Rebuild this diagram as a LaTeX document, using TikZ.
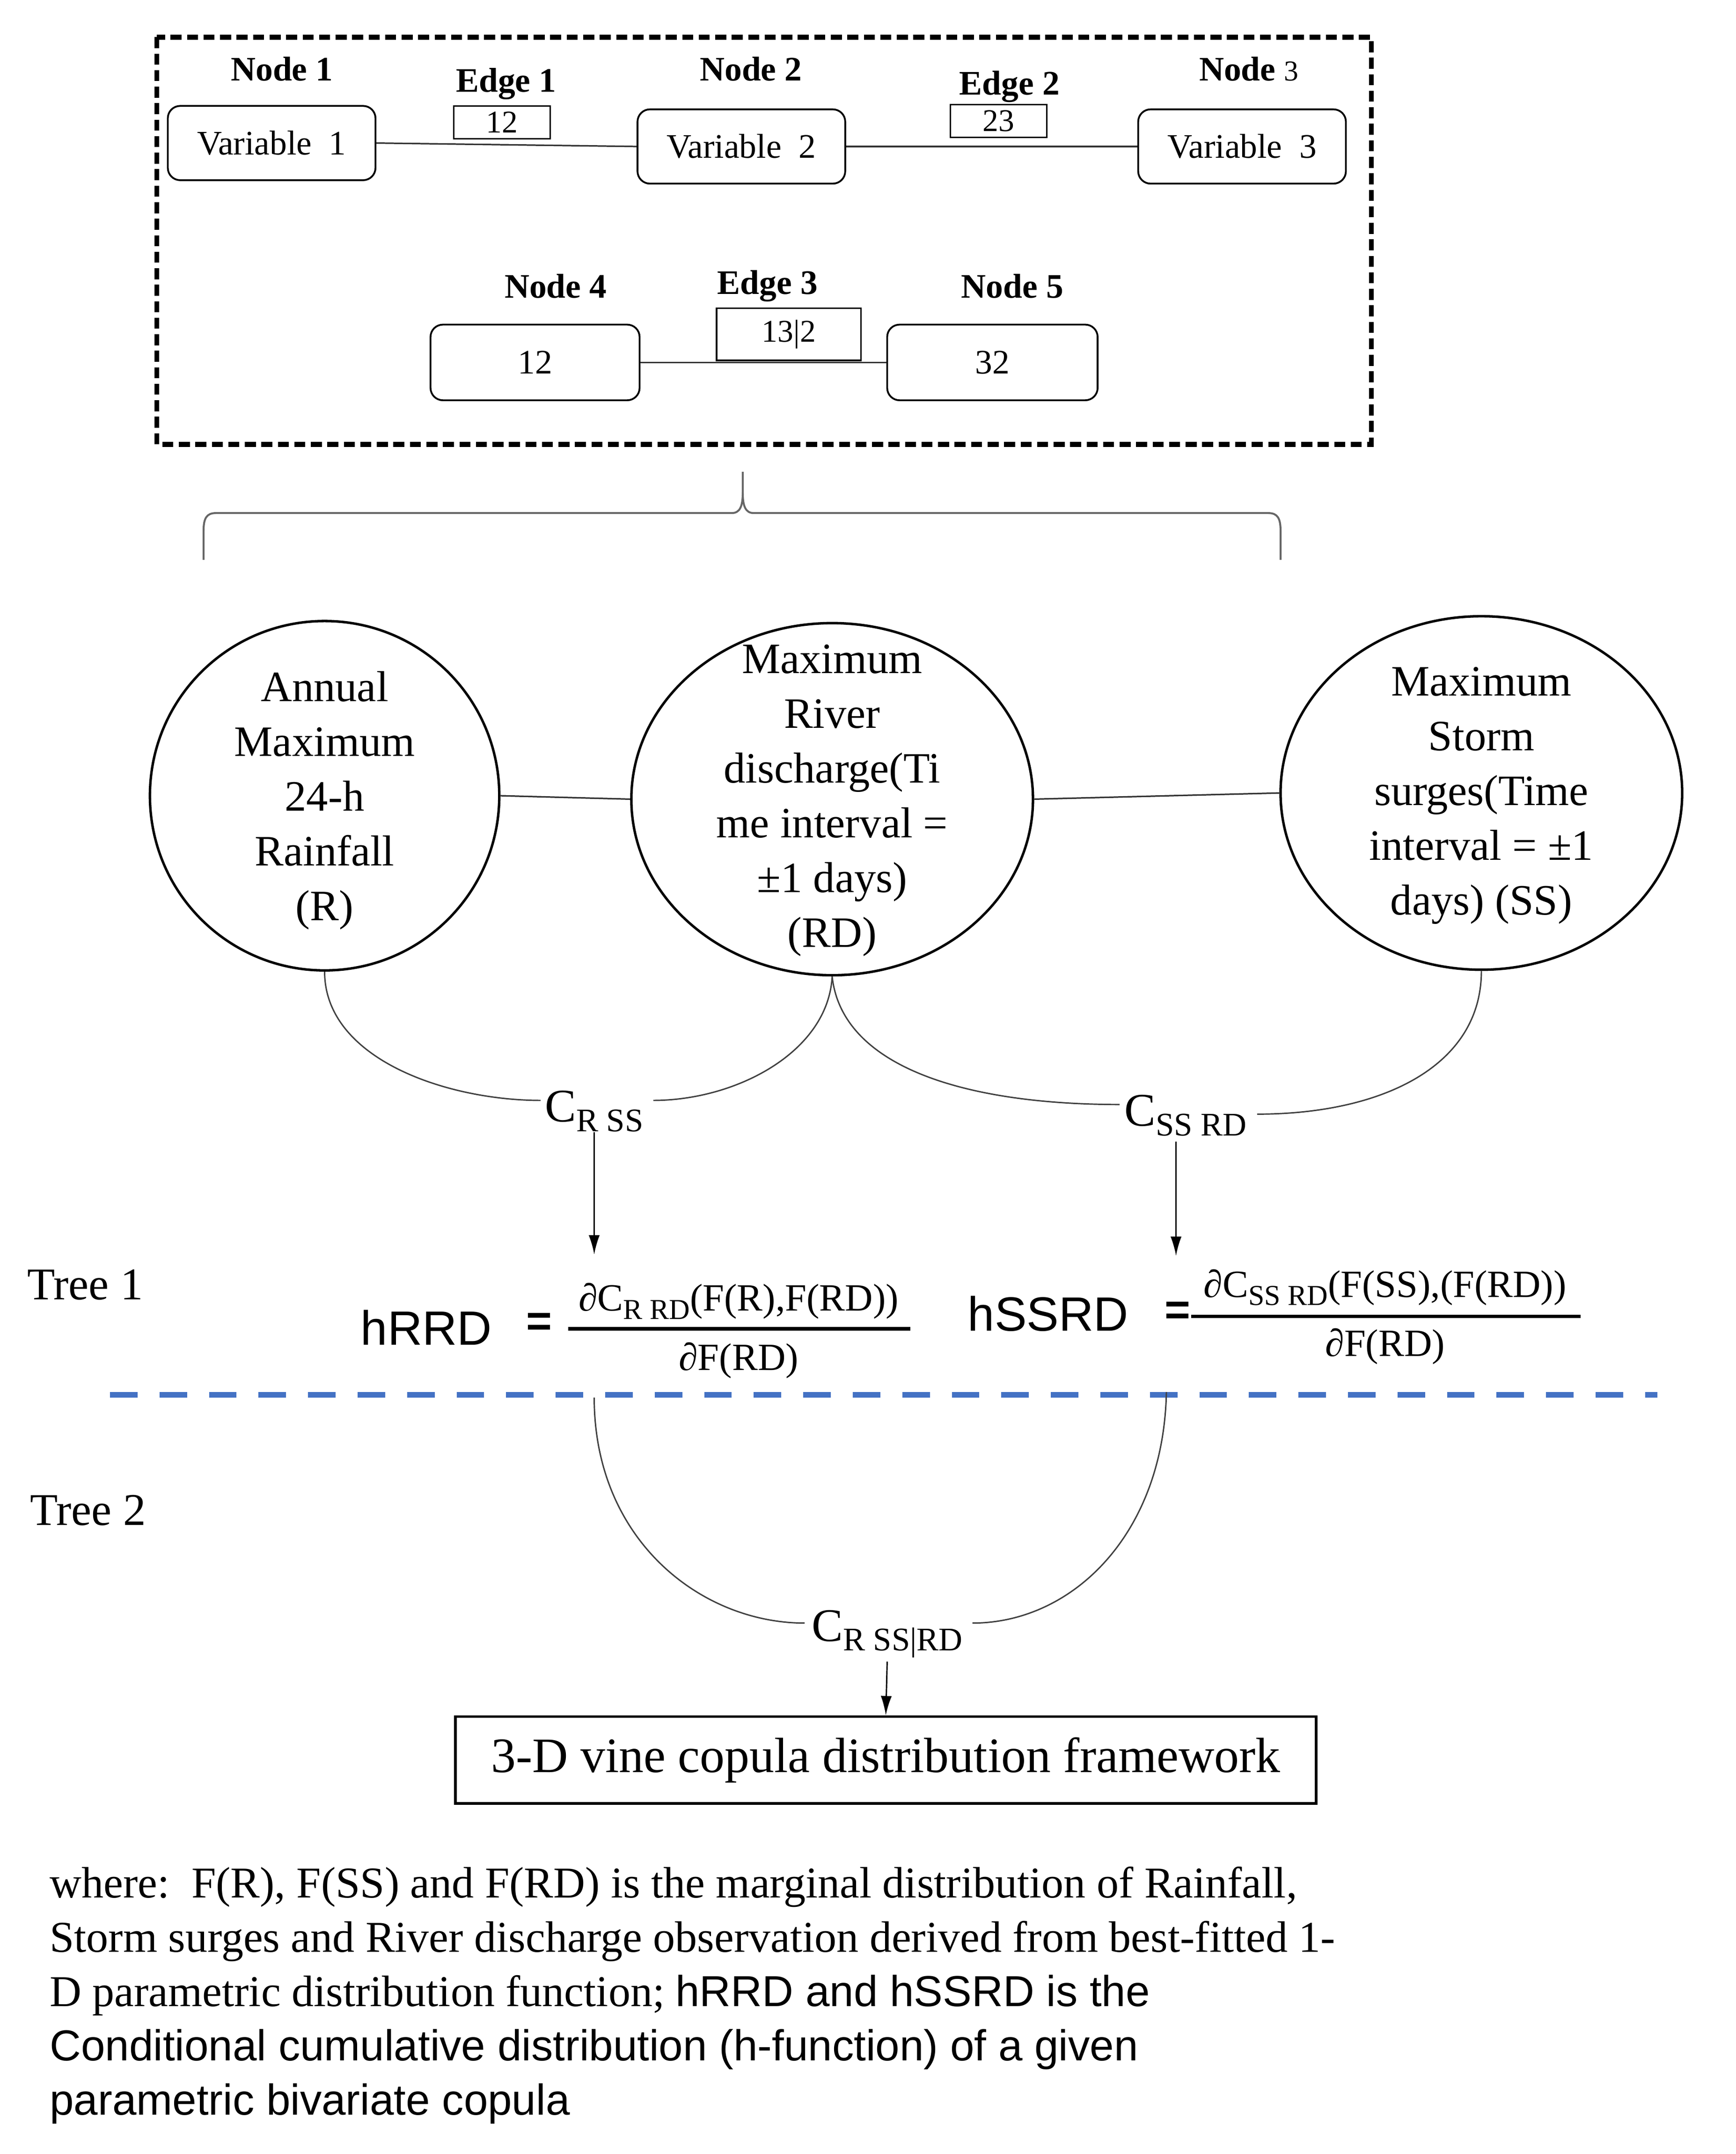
\documentclass[tikz,border=0pt]{standalone}
\usepackage{fontspec}
\setmainfont{Liberation Serif}
\newfontfamily\arialf{Liberation Sans}
\usetikzlibrary{shapes.geometric,arrows.meta}
\newcommand{\myfs}[2]{\fontsize{#1}{#2}\selectfont}
\begin{document}
\begin{tikzpicture}[x=1pt,y=-1pt,
  hdr/.style={inner sep=0pt,font=\bfseries\myfs{25}{25}},
  vbox/.style={draw,rounded corners=9pt,line width=1.3pt,minimum width=151pt,minimum height=54pt,inner sep=0pt,font=\myfs{25}{25}},
  ebox/.style={draw,line width=1.1pt,inner sep=0pt,font=\myfs{23}{23}},
  conn/.style={line width=1.1pt,draw=black!80},
  frame/.style={line width=3.6pt,dash pattern=on 8pt off 4pt},
  circ/.style={ellipse,draw,line width=1.8pt,inner sep=0pt},
  ctext/.style={align=center,inner sep=0pt,font=\myfs{31.5}{39.8}},
  curve/.style={line width=1pt,draw=black!75},
  arr/.style={line width=1pt,-{Latex[length=14pt,width=8pt]}},
  clab/.style={inner sep=0pt},
  sansbig/.style={inner sep=0pt,font=\arialf\myfs{35}{35}},
  eqs/.style={inner sep=0pt,font=\arialf\bfseries\myfs{32}{32}},
  frac/.style={inner sep=0pt,font=\myfs{28}{28}},
  bar/.style={line width=2.6pt},
  tree/.style={inner sep=0pt,font=\myfs{33}{33}},
  bluedash/.style={line width=4pt,draw={rgb,255:red,68;green,114;blue,196},dash pattern=on 20pt off 16pt},
  fwbox/.style={draw,line width=2pt,minimum width=626pt,minimum height=63pt,inner sep=0pt,font=\myfs{36}{36}},
  brace/.style={line width=1.4pt,draw=black!60}
]
\useasboundingbox (0,0) rectangle (1262,1566);
\fill[white] (0,0) rectangle (1262,1566);

% ---------- top legend box ----------
\draw[frame] (114,27) rectangle (997,323);
\node[hdr] (h1) at (205,50) {Node 1};
\node[hdr] (he1) at (368,61) {Edge 1};
\node[hdr] (h2) at (546,50) {Node 2};
\node[hdr] (he2) at (734,63) {Edge 2};
\node[hdr] (h3) at (908,50) {Node {\mdseries\myfs{21}{21}3}};
\node[vbox] (v1) at (197.5,104) {Variable\ \ 1};
\node[vbox] (v2) at (539,106.5) {Variable\ \ 2};
\node[vbox] (v3) at (903,106.5) {Variable\ \ 3};
\node[ebox,minimum width=70pt,minimum height=24pt] (e12) at (365,89) {12};
\node[ebox,minimum width=70pt,minimum height=24pt] (e23) at (726,88) {23};
\draw[conn] (v1.east) -- (v2.west);
\draw[conn] (v2.east) -- (v3.west);

\node[hdr] (h4) at (404,208) {Node 4};
\node[hdr] (he3) at (558,208) {Edge 3};
\node[hdr] (h5) at (736,208) {Node 5};
\node[vbox,minimum width=152pt,minimum height=55pt] (n4) at (389,263.5) {12};
\node[vbox,minimum width=153pt,minimum height=55pt] (n5) at (721.5,263.5) {32};
\draw[conn] (n4.east) -- (n5.west);
\node[ebox,minimum width=105pt,minimum height=38pt,fill=white] (e132) at (573.5,243) {13|2};

% ---------- brace ----------
\draw[brace] (148,407) -- (148,386) .. controls (148,377) and (150,373) .. (157,373) -- (532,373)
  .. controls (538,373) and (540,368) .. (540,358) -- (540,343);
\draw[brace] (540,358) .. controls (540,368) and (542,373) .. (548,373) -- (922,373)
  .. controls (929,373) and (931,377) .. (931,386) -- (931,407);

% ---------- tree 1 nodes ----------
\node[circ,minimum width=254pt,minimum height=254pt] (c1) at (236,578.5) {};
\node[circ,minimum width=292pt,minimum height=256pt] (c2) at (605,581) {};
\node[circ,minimum width=292pt,minimum height=257pt] (c3) at (1077,576.5) {};
\node[ctext] (t1) at (236,582) {Annual\\Maximum\\24-h\\Rainfall\\(R)};
\node[ctext] (t2) at (605,582) {Maximum\\River\\discharge(Ti\\me interval =\\±1 days)\\(RD)};
\node[ctext] (t3) at (1077,578.5) {Maximum\\Storm\\surges(Time\\interval = ±1\\days) (SS)};
\draw[conn] (c1.east) -- (c2.west);
\draw[conn] (c2.east) -- (c3.west);

% copula labels tree 1
\node[clab] (crss) at (432,808) {\myfs{34}{34}C\raisebox{-7pt}{\myfs{24}{24}R SS}};
\node[clab] (cssrd) at (862,811) {\myfs{34}{34}C\raisebox{-7pt}{\myfs{24}{24}SS RD}};
\coordinate (crssL) at (393,800);
\coordinate (crssR) at (475,800);
\coordinate (cssrdL) at (814,803);
\coordinate (cssrdR) at (914,810);
\draw[curve] (c1.south) .. controls (236,770) and (325,800) .. (crssL);
\draw[curve] (c2.south) .. controls (602,765) and (535,800) .. (crssR);
\draw[curve] (c2.south) .. controls (612,775) and (700,803) .. (cssrdL);
\draw[curve] (c3.south) .. controls (1077,775) and (1005,810) .. (cssrdR);

% formulas
\node[tree] (tree1) at (62,934) {Tree 1};
\node[tree] (tree2) at (64,1098) {Tree 2};
\node[sansbig] (hrrd) at (310,965) {hRRD};
\node[eqs] (eq1) at (392,963) {=};
\node[frac] (num1) at (537,946) {∂C\raisebox{-6pt}{\myfs{21}{21}R RD}(F(R),F(RD))};
\node[frac] (den1) at (537,989) {∂F(RD)};
\draw[bar] (413,966) -- (662,966);
\node[sansbig] (hssrd) at (762,955) {hSSRD};
\node[eqs] (eq2) at (856,955) {=};
\node[frac] (num2) at (1007,936) {∂C\raisebox{-6pt}{\myfs{21}{21}SS RD}(F(SS),(F(RD))};
\node[frac] (den2) at (1007,979) {∂F(RD)};
\draw[bar] (866,957) -- (1149,957);
\coordinate (a1end) at (432,912);
\coordinate (a2start) at (855,830);
\coordinate (a2end) at (855,913);
\draw[arr] (crss.south) -- (a1end);
\draw[arr] (a2start) -- (a2end);

% separator
\draw[bluedash] (80,1014) -- (1205,1014);

% tree 2
\node[clab] (crssrd) at (645,1188) {\myfs{34}{34}C\raisebox{-7pt}{\myfs{24}{24}R SS|RD}};
\coordinate (t2a) at (432,1016);
\coordinate (t2b) at (848,1012);
\coordinate (t2L) at (585,1180);
\coordinate (t2R) at (707,1180);
\draw[curve] (t2a) .. controls (432,1120) and (510,1180) .. (t2L);
\draw[curve] (t2b) .. controls (846,1115) and (780,1180) .. (t2R);
\node[fwbox] (fw) at (644,1279.5) {3-D vine copula distribution framework};
\coordinate (a3start) at (645,1208);
\draw[arr] (a3start) -- (fw.north);

% note
\node[anchor=north west,align=left,inner sep=0pt,font=\myfs{32}{39.5}] (note) at (36,1357)
{where:\ \ F(R), F(SS) and F(RD) is the marginal distribution of Rainfall,\\
Storm surges and River discharge observation derived from best-fitted 1-\\
D parametric distribution function; {\arialf\myfs{31.5}{39.5}hRRD and hSSRD is the}\\
{\arialf\myfs{31.5}{39.5}Conditional cumulative distribution (h-function) of a given}\\
{\arialf\myfs{31.5}{39.5}parametric bivariate copula}};
\end{tikzpicture}
\end{document}
